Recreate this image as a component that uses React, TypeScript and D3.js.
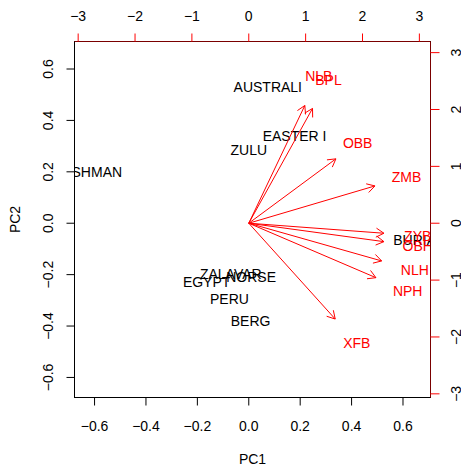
import React from 'react';
import * as d3 from 'd3';

// PC scores (bottom/left scale)
const obsNames = ['AUSTRALI', 'EASTER I', 'ZULU', 'BUSHMAN', 'BURIAT', 'ZALAVAR', 'NORSE', 'EGYPT', 'PERU', 'BERG'];
const obsPC1 = [0.074, 0.178, 0.0, -0.629, 0.66, -0.07, 0.009, -0.164, -0.075, 0.007];
const obsPC2 = [0.531, 0.339, 0.285, 0.2, -0.065, -0.198, -0.21, -0.229, -0.295, -0.379];

// variable loadings (top/right scale)
const varNames = ['NLB', 'BPL', 'OBB', 'ZMB', 'ZYB', 'OBH', 'NLH', 'NPH', 'XFB'];
const varPC1 = [1.232, 1.401, 1.915, 2.773, 2.971, 2.971, 2.921, 2.795, 1.9];
const varPC2 = [2.588, 2.523, 1.415, 0.82, -0.22, -0.405, -0.829, -1.197, -2.106];

const mainTicks = [-0.6, -0.4, -0.2, 0.0, 0.2, 0.4, 0.6];
const varTicks = [-3, -2, -1, 0, 1, 2, 3];

const lim: [number, number] = [-0.678, 0.707];
const ratio = 4.52;

const W = 461;
const H = 465;
const left = 74.5, right = 430.5, top = 41.5, bottom = 397.5;
const font = '"Liberation Sans", Arial, sans-serif';
const fs = 14;

const fmt = (v: number, d: number) => v.toFixed(d).replace('-', '\u2212');

export default function App() {
  const x = d3.scaleLinear().domain(lim).range([left, right]);
  const y = d3.scaleLinear().domain(lim).range([bottom, top]);
  const xv = d3.scaleLinear().domain([lim[0] * ratio, lim[1] * ratio]).range([left, right]);
  const yv = d3.scaleLinear().domain([lim[0] * ratio, lim[1] * ratio]).range([bottom, top]);

  const headLen = 9;
  const headAng = Math.PI / 6;

  const arrows = varNames.map((n, i) => {
    const x0 = xv(0), y0 = yv(0);
    const x1 = xv(varPC1[i] * 0.8), y1 = yv(varPC2[i] * 0.8);
    const a = Math.atan2(y1 - y0, x1 - x0);
    const h1 = [x1 - headLen * Math.cos(a - headAng), y1 - headLen * Math.sin(a - headAng)];
    const h2 = [x1 - headLen * Math.cos(a + headAng), y1 - headLen * Math.sin(a + headAng)];
    const path = d3.path();
    path.moveTo(x0, y0);
    path.lineTo(x1, y1);
    path.moveTo(h1[0], h1[1]);
    path.lineTo(x1, y1);
    path.lineTo(h2[0], h2[1]);
    return { n, d: path.toString(), lx: xv(varPC1[i]), ly: yv(varPC2[i]) };
  });

  return (
    <svg width={W} height={H} style={{ position: 'absolute', left: 0, top: 0 }} fontFamily={font}>
      <rect width={W} height={H} fill="#fff" />
      <defs>
        <clipPath id="plotclip">
          <rect x={left} y={top} width={right - left} height={bottom - top} />
        </clipPath>
      </defs>

      <g clipPath="url(#plotclip)" fontSize={fs}>
        {obsNames.map((n, i) => (
          <text key={n} x={x(obsPC1[i])} y={y(obsPC2[i])} textAnchor="middle" dominantBaseline="central" fill="#000">
            {n}
          </text>
        ))}
        {arrows.map((a) => (
          <g key={a.n}>
            <path d={a.d} fill="none" stroke="#ff0000" strokeWidth={1} />
            <text x={a.lx} y={a.ly} textAnchor="middle" dominantBaseline="central" fill="#ff0000">
              {a.n}
            </text>
          </g>
        ))}
      </g>

      {/* box */}
      <rect x={left} y={top} width={right - left} height={bottom - top} fill="none" stroke="#000" strokeWidth={1} />
      <line x1={left} x2={right} y1={top} y2={top} stroke="#7a0000" />
      <line x1={right} x2={right} y1={top} y2={bottom} stroke="#7a0000" />

      {/* bottom axis */}
      <g fontSize={fs}>
        {mainTicks.map((t) => (
          <g key={'b' + t}>
            <line x1={x(t)} x2={x(t)} y1={bottom} y2={bottom + 8} stroke="#000" />
            <text x={x(t)} y={bottom + 28} textAnchor="middle" dominantBaseline="central">{fmt(t, 1)}</text>
          </g>
        ))}
        {mainTicks.map((t) => (
          <g key={'l' + t}>
            <line x1={left} x2={left - 8} y1={y(t)} y2={y(t)} stroke="#000" />
            <text transform={`translate(${left - 27},${y(t)}) rotate(-90)`} textAnchor="middle" dominantBaseline="central">{fmt(t, 1)}</text>
          </g>
        ))}
        {varTicks.map((t) => (
          <g key={'t' + t}>
            <line x1={xv(t)} x2={xv(t)} y1={top} y2={top - 8} stroke="#ff0000" />
            <text x={xv(t)} y={top - 25.5} textAnchor="middle" dominantBaseline="central">{fmt(t, 0)}</text>
          </g>
        ))}
        {varTicks.map((t) => (
          <g key={'r' + t}>
            <line x1={right} x2={right + 9} y1={yv(t)} y2={yv(t)} stroke="#ff0000" />
            <text transform={`translate(${right + 25.5},${yv(t)}) rotate(-90)`} textAnchor="middle" dominantBaseline="central">{fmt(t, 0)}</text>
          </g>
        ))}
        <text x={(left + right) / 2} y={bottom + 61} textAnchor="middle" dominantBaseline="central">PC1</text>
        <text transform={`translate(15,${(top + bottom) / 2}) rotate(-90)`} textAnchor="middle" dominantBaseline="central">PC2</text>
      </g>
    </svg>
  );
}
